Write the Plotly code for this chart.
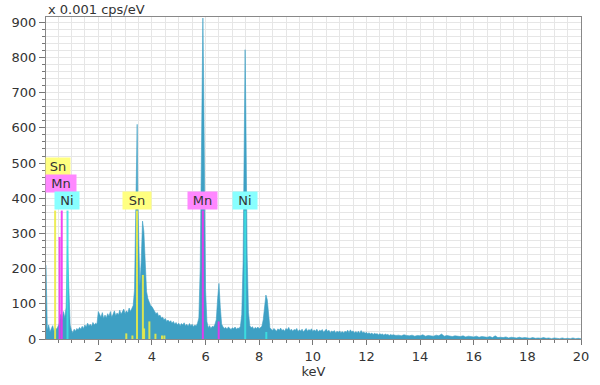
import numpy as np
import plotly.graph_objects as go

# ---- spectrum counts (x 0.001 cps/eV), 0.05 keV channels, one row per keV ----
seg_counts = [
    [210, 25, 40, 20, 30, 38, 22, 32, 28, 35, 45, 70, 55, 78, 60, 90, 265, 150, 40, 25],      # 0.05-1.00
    [18, 28, 22, 30, 26, 33, 28, 36, 30, 40, 34, 45, 38, 42, 36, 47, 40, 45, 42, 78],          # 1.05-2.00
    [70, 62, 75, 58, 68, 60, 72, 65, 78, 62, 70, 80, 66, 74, 68, 82, 70, 76, 85, 72],          # 2.05-3.00
    [80, 74, 88, 78, 85, 95, 140, 330, 610, 270, 150, 220, 335, 305, 210, 135, 115, 105, 95, 92],  # 3.05-4.00
    [85, 80, 72, 75, 65, 68, 60, 62, 55, 58, 50, 54, 48, 52, 45, 50, 42, 47, 40, 45],          # 4.05-5.00
    [38, 44, 40, 46, 38, 42, 36, 44, 38, 42, 35, 40, 37, 45, 60, 200, 620, 912, 560, 140],     # 5.05-6.00
    [50, 32, 38, 30, 36, 34, 42, 55, 115, 158, 90, 42, 35, 30, 33, 28, 34, 30, 27, 32],        # 6.05-7.00
    [29, 34, 28, 31, 30, 36, 70, 220, 640, 660, 240, 75, 38, 32, 35, 28, 33, 30, 34, 29],      # 7.05-8.00
    [32, 36, 55, 90, 125, 112, 60, 32, 28, 24, 30, 26, 22, 29, 25, 31, 24, 27, 22, 30],        # 8.05-9.00
    [26, 33, 24, 28, 22, 27, 25, 30, 21, 26, 23, 28, 20, 25, 30, 22, 27, 24, 29, 21],          # 9.05-10.00
    [26, 22, 28, 20, 25, 23, 27, 19, 24, 28, 21, 25, 18, 23, 20, 24, 17, 22, 19, 23],          # 10.05-11.00
    [18, 21, 17, 22, 19, 25, 18, 26, 20, 23, 17, 21, 18, 22, 16, 24, 18, 20, 16, 19],          # 11.05-12.00
    [15, 18, 14, 17, 13, 16, 14, 15, 12, 15, 13, 14, 11, 14, 12, 13, 10, 13, 11, 12],          # 12.05-13.00
]
# 0.1 keV channels from 13.1 to 20.0 keV
tail_counts = [
    10, 11, 9, 12, 10, 9, 11, 8, 10, 9,
    12, 8, 10, 9, 8, 11, 9, 14, 8, 10,
    9, 7, 9, 8, 7, 9, 6, 8, 7, 6,
    8, 5, 7, 6, 5, 7, 4, 9, 4, 5,
    4, 6, 3, 5, 4, 3, 5, 3, 4, 3,
    2, 4, 2, 3, 2, 4, 2, 3, 1, 3,
    2, 1, 3, 1, 2, 1, 3, 1, 2, 1,
]
# extra points on the sharp peak flanks / apexes
apex_energy = [3.425, 3.475, 5.825, 5.875, 5.925, 5.975, 7.425, 7.475, 7.525]
apex_counts = [450, 400, 420, 780, 760, 330, 420, 822, 450]

# ---- element marker lines ----
sn_energy = [0.39, 3.044, 3.272, 3.444, 3.663, 3.708, 3.905, 4.131, 4.376, 4.464]
sn_height = [365, 16, 10, 365, 182, 30, 50, 15, 10, 10]
mn_energy = [0.556, 0.637, 5.899, 6.490]
mn_height = [290, 365, 365, 50]
ni_energy = [0.852, 7.478, 8.265]
ni_height = [365, 365, 20]

# label boxes
label_text = ["Sn", "Mn", "Ni", "Sn", "Mn", "Ni"]
label_x = [0.50, 0.61, 0.85, 3.46, 5.87, 7.47]
label_y = [491, 442, 393, 393, 393, 393]
label_w = [24, 30, 24, 28, 29, 24]
label_bg = ["#ffff80", "#ff88ff", "#88ffff", "#ffff80", "#ff88ff", "#88ffff"]

# ---- assemble spectrum ----
ex, ey = [], []
for k, row in enumerate(seg_counts):
    for j, v in enumerate(row):
        ex.append(round(k + 0.05 * (j + 1), 3))
        ey.append(v)
for j, v in enumerate(tail_counts):
    ex.append(round(13.0 + 0.1 * (j + 1), 3))
    ey.append(v)
ex += apex_energy
ey += apex_counts
order = np.argsort(ex, kind="stable")
ex = np.array(ex)[order]
ey = np.array(ey)[order]

fig = go.Figure()
fig.add_trace(go.Scatter(
    x=ex, y=ey, mode="lines", fill="tozeroy",
    line=dict(color="rgb(62,160,196)", width=0.6),
    fillcolor="rgb(62,160,196)", hoverinfo="skip", showlegend=False,
))


def stems(energies, heights):
    xs, ys = [], []
    for e, h in zip(energies, heights):
        xs += [e, e, None]
        ys += [0, h, None]
    return xs, ys


for en, hh, col in [(sn_energy, sn_height, "rgba(235,235,70,0.9)"),
                    (mn_energy, mn_height, "rgba(240,50,240,0.9)"),
                    (ni_energy, ni_height, "rgba(60,225,225,0.9)")]:
    xs, ys = stems(en, hh)
    fig.add_trace(go.Scatter(x=xs, y=ys, mode="lines",
                             line=dict(color=col, width=2),
                             hoverinfo="skip", showlegend=False))

font = "DejaVu Sans, Verdana, sans-serif"
for t, x, y, w, bg in zip(label_text, label_x, label_y, label_w, label_bg):
    fig.add_annotation(x=x, y=y, text=t, showarrow=False, bgcolor=bg,
                       width=w, height=17, borderpad=0,
                       font=dict(family=font, size=13, color="#333333"))

fig.add_annotation(xref="paper", yref="paper", x=0, y=1, xanchor="left", yanchor="bottom",
                   text="x 0.001 cps/eV", showarrow=False, yshift=-2,
                   font=dict(family=font, size=13, color="#333333"))

grid = "#e6e6e6"
fig.update_layout(
    template="none",
    width=600, height=385,
    margin=dict(l=46, r=19, t=17, b=46, autoexpand=False),
    paper_bgcolor="white", plot_bgcolor="white",
    font=dict(family=font, size=13, color="#333333"),
    xaxis=dict(range=[0.05, 20], tick0=0, dtick=2, ticks="outside", ticklen=5,
               tickcolor="#777777", showline=True, linecolor="#888888", mirror=True,
               showgrid=True, gridcolor=grid, gridwidth=1, zeroline=False, automargin=False,
               minor=dict(dtick=0.5, ticks="outside", ticklen=3, tickcolor="#777777",
                          showgrid=True, gridcolor=grid),
               title=dict(text="keV", standoff=2, font=dict(size=13)),
               tickfont=dict(size=13)),
    yaxis=dict(range=[0, 915], tick0=0, dtick=100, ticks="outside", ticklen=6,
               tickcolor="#777777", showline=True, linecolor="#888888", mirror=True,
               showgrid=True, gridcolor=grid, gridwidth=1, zeroline=False, automargin=False,
               minor=dict(dtick=20, ticks="outside", ticklen=3, tickcolor="#777777",
                          showgrid=True, gridcolor=grid),
               tickfont=dict(size=13)),
)

fig.write_html("out.html", config={"displayModeBar": False},
               post_script="document.body.style.margin='0';document.body.style.overflow='hidden';")
